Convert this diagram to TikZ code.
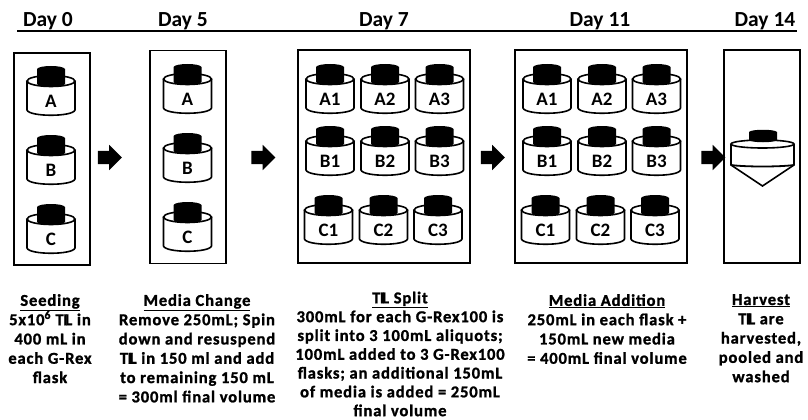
\documentclass[tikz,border=0pt]{standalone}
\usepackage{fontspec}
\usepackage{tikz}
\usetikzlibrary{shapes.arrows}
\setmainfont{Carlito}
\newfontfamily\capfont[LetterSpace=5,BoldFeatures={LetterSpace=5,FakeBold=1.2}]{Carlito}
\newcommand{\TIL}{T\kern-0.6pt I\kern-2.2pt L}
\tikzset{
 flaskline/.style={draw=black,line width=1.6pt,fill=white},
 capfill/.style={fill=black},
 flasklabel/.style={font=\bfseries\fontsize{19}{19}\selectfont},
 dayhead/.style={anchor=base,font=\bfseries\fontsize{21.5}{21.5}\selectfont},
 stagebox/.style={draw=black,line width=1.5pt},
 stepcaption/.style={anchor=north,align=center,inner sep=0pt,font=\capfont\bfseries\fontsize{16.6}{19.3}\selectfont},
 steparrow/.style={single arrow,fill=black,inner sep=0pt,minimum height=24pt,single arrow head extend=6pt,single arrow head indent=0pt},
 pics/flask/.style={code={
  \draw[flaskline] (-24,15) -- (-24,44) .. controls (-22,51) and (22,51) .. (24,44) -- (24,15);
  \draw[flaskline] (0,15) ellipse [x radius=24,y radius=5.5];
  \fill[capfill] (-14,3) .. controls (-12,-1) and (12,-1) .. (14,3) -- (14,18) .. controls (12,22) and (-12,22) .. (-14,18) -- cycle;
  \node[flasklabel] (-label) at (0,35) {#1};
 }}
}
\begin{document}
\begin{tikzpicture}[x=1pt,y=-1pt]
 \useasboundingbox (0,0) rectangle (808,420);
 % time line with the days
 \coordinate (lineL) at (17,31);
 \coordinate (lineR) at (797,31);
 \draw[line width=1.3pt] (lineL) -- (lineR);
 \node[dayhead] (day0) at (48,27) {Day 0};
 \node[dayhead] (day5) at (183,27) {Day 5};
 \node[dayhead] (day7) at (384,27) {Day 7};
 \node[dayhead] (day11) at (600,27) {Day 11};
 \node[dayhead] (day14) at (765,27) {Day 14};
 % boxes
 \draw[stagebox] (14,53) rectangle (90,265);
 \draw[stagebox] (150,50.5) rectangle (226,263.5);
 \draw[stagebox] (298,50) rectangle (470,263);
 \draw[stagebox] (515,50) rectangle (687,263);
 \draw[stagebox] (724,50) rectangle (800,263);
 % single flasks
 \foreach \lab/\ytop in {A/66,B/135,C/204} \pic (zero\lab) at (51,\ytop) {flask=\lab};
 \foreach \lab/\ytop in {A/64,B/133,C/202} \pic (five\lab) at (187.5,\ytop) {flask=\lab};
 % flask grids
 \foreach \col/\dx in {1/0,2/55,3/109.5} {
  \pic (sevenA\col) at (330+\dx,64) {flask=A\col};
  \pic (sevenB\col) at (330+\dx,126) {flask=B\col};
  \pic (sevenC\col) at (328.5+\dx,195) {flask=C\col};
  \pic (elevenA\col) at (547+\dx,64) {flask=A\col};
  \pic (elevenB\col) at (547+\dx,126) {flask=B\col};
  \pic (elevenC\col) at (545.5+\dx,195) {flask=C\col};
 }
 % conical flask
 \draw[flaskline] (731,144) -- (731,165) -- (762.5,186) -- (794,165) -- (794,144);
 \draw[line width=1.8pt] (731,165) .. controls (745,167) and (780,167) .. (794,165);
 \draw[flaskline] (762.5,144) ellipse [x radius=31.5,y radius=4];
 \fill[capfill] (749,132) .. controls (751,129) and (775,129) .. (777,132) -- (777,140) .. controls (775,143) and (751,143) .. (749,140) -- cycle;
 % arrows between the days
 \node[steparrow] (arrow1) at (106.5,157.5) {\rule{0pt}{13pt}};
 \node[steparrow] (arrow2) at (260,157.5) {\rule{0pt}{13pt}};
 \node[steparrow] (arrow3) at (489.5,157.5) {\rule{0pt}{13pt}};
 \node[steparrow] (arrow4) at (710,157.5) {\rule{0pt}{13pt}};
 % captions
 \node[stepcaption] (seeding) at (50,294) {\underline{Seeding}\\5x10\textsuperscript{6} \TIL{} in\\400 mL in\\each G-Rex\\flask};
 \node[stepcaption] (change) at (197,294) {\underline{Media Change}\\Remove 250mL; Spin\\down and resuspend\\\TIL{} in 150 ml and add\\to remaining 150 mL\\= 300ml final volume};
 \node[stepcaption,font=\capfont\bfseries\fontsize{16.6}{18.8}\selectfont] (split) at (400,291.5) {\underline{\TIL{} Split}\\300mL for each G-Rex100 is\\split into 3 100mL aliquots;\\100mL added to 3 G-Rex100\\flasks; an additional 150mL\\of media is added = 250mL\\final volume};
 \node[stepcaption] (addition) at (607,294) {\underline{Media Addition}\\250mL in each flask +\\150mL new media\\= 400mL final volume};
 \node[stepcaption] (harvest) at (761,294) {\underline{Harvest}\\\TIL{} are\\harvested,\\pooled and\\washed};
\end{tikzpicture}
\end{document}
